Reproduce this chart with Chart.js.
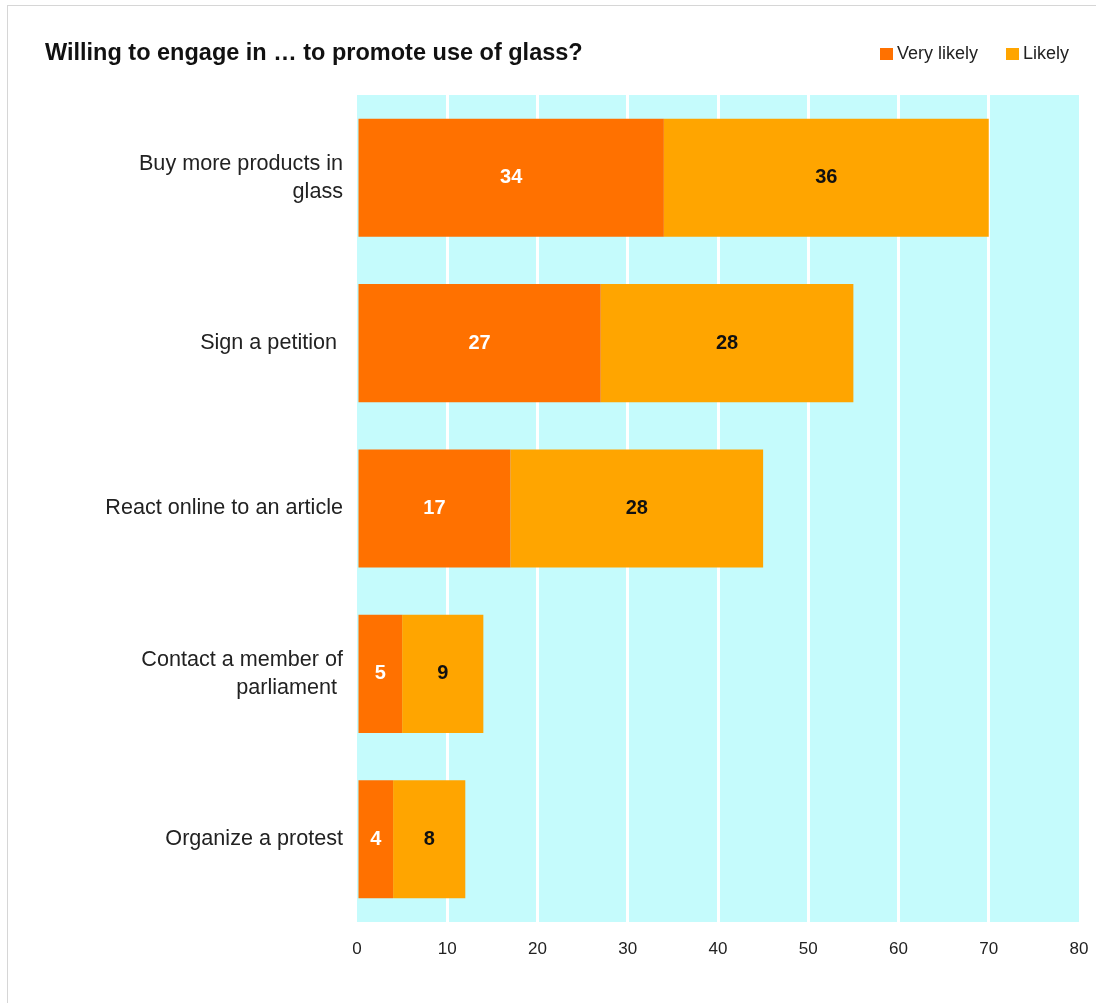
<!DOCTYPE html>
<html>
<head>
<meta charset="utf-8">
<script src="https://cdn.jsdelivr.net/npm/chart.js@4/dist/chart.umd.min.js"></script>
<style>
  body { margin: 0; overflow: hidden; background: #fff; font-family: "Liberation Sans", Arial, sans-serif; }
  #frame { position: absolute; left: 7px; top: 5px; width: 2000px; height: 2000px; border: 1px solid #d6d6d6; }
  #wrap { position: absolute; left: 0; top: 0; width: 1096px; height: 1003px; }
  #title { position: absolute; left: 45px; top: 39px; font-weight: bold; font-size: 23.5px; color: #111; white-space: nowrap; }
  #legend { position: absolute; right: 27px; top: 43px; font-size: 18px; color: #222; display: flex; white-space: nowrap; }
  #legend .item { display: flex; align-items: center; margin-left: 28px; }
  #legend .box { width: 13px; height: 12px; margin-right: 4px; }
</style>
</head>
<body>
<div id="frame"></div>
<div id="wrap"><canvas id="chart"></canvas></div>
<div id="title">Willing to engage in … to promote use of glass?</div>
<div id="legend"></div>
<script>
const categories = [
  ['Buy more products in', 'glass'],
  'Sign a petition ',
  'React online to an article',
  ['Contact a member of', 'parliament '],
  'Organize a protest'
];
const veryLikely = [34, 27, 17, 5, 4];
const likely = [36, 28, 28, 9, 8];
const xTicks = [0, 10, 20, 30, 40, 50, 60, 70, 80];

const datasets = [
  { label: 'Very likely', data: veryLikely, backgroundColor: '#ff7100', textColor: '#ffffff' },
  { label: 'Likely', data: likely, backgroundColor: '#ffa500', textColor: '#111111' }
];

// legend squares + names
const legendEl = document.getElementById('legend');
datasets.forEach(ds => {
  const item = document.createElement('div');
  item.className = 'item';
  const box = document.createElement('span');
  box.className = 'box';
  box.style.background = ds.backgroundColor;
  const txt = document.createElement('span');
  txt.textContent = ds.label;
  item.appendChild(box);
  item.appendChild(txt);
  legendEl.appendChild(item);
});

// cyan fill behind the plot area
const plotBackground = {
  id: 'plotBackground',
  beforeDraw(chart) {
    const { ctx, chartArea } = chart;
    ctx.save();
    ctx.fillStyle = '#c5fbfc';
    ctx.fillRect(chartArea.left, chartArea.top, chartArea.right - chartArea.left, chartArea.bottom - chartArea.top);
    ctx.restore();
  }
};

// value written in the middle of each segment
const segmentLabels = {
  id: 'segmentLabels',
  afterDatasetsDraw(chart) {
    const { ctx } = chart;
    ctx.save();
    ctx.font = 'bold 20px "Liberation Sans", Arial, sans-serif';
    ctx.textAlign = 'center';
    ctx.textBaseline = 'middle';
    chart.data.datasets.forEach((ds, i) => {
      const meta = chart.getDatasetMeta(i);
      ctx.fillStyle = datasets[i].textColor;
      meta.data.forEach((bar, j) => {
        const { x, y, base } = bar.getProps(['x', 'y', 'base'], true);
        ctx.fillText(String(ds.data[j]), (x + base) / 2, y);
      });
    });
    ctx.restore();
  }
};

new Chart(document.getElementById('chart'), {
  type: 'bar',
  data: {
    labels: categories,
    datasets: datasets.map(d => ({
      label: d.label,
      data: d.data,
      backgroundColor: d.backgroundColor,
      borderWidth: 0,
      barPercentage: 0.714,
      categoryPercentage: 1
    }))
  },
  options: {
    indexAxis: 'y',
    responsive: true,
    maintainAspectRatio: false,
    animation: false,
    layout: { padding: { top: 95, right: 17, bottom: 0, left: 0 } },
    plugins: {
      legend: { display: false },
      title: { display: false },
      tooltip: { enabled: false }
    },
    scales: {
      x: {
        stacked: true,
        min: 0,
        max: 80,
        afterBuildTicks(scale) { scale.ticks = xTicks.map(v => ({ value: v })); },
        afterFit(scale) {
          scale.height = 81;
          scale.paddingLeft = 0;
          scale.paddingRight = 0;
        },
        border: { display: false },
        grid: {
          drawTicks: false,
          lineWidth: 3,
          color: c => (c.tick && (c.tick.value === 0 || c.tick.value === 80)) ? 'rgba(0,0,0,0)' : '#ffffff'
        },
        ticks: {
          padding: 17,
          color: '#222',
          font: { family: '"Liberation Sans", Arial, sans-serif', size: 17 }
        }
      },
      y: {
        stacked: true,
        afterFit(scale) { scale.width = 357; },
        border: { display: false },
        grid: { display: false, drawTicks: false },
        ticks: {
          padding: 14,
          color: '#222',
          font: { family: '"Liberation Sans", Arial, sans-serif', size: 21.6, lineHeight: 1.3 }
        }
      }
    }
  },
  plugins: [plotBackground, segmentLabels]
});
</script>
</body>
</html>
